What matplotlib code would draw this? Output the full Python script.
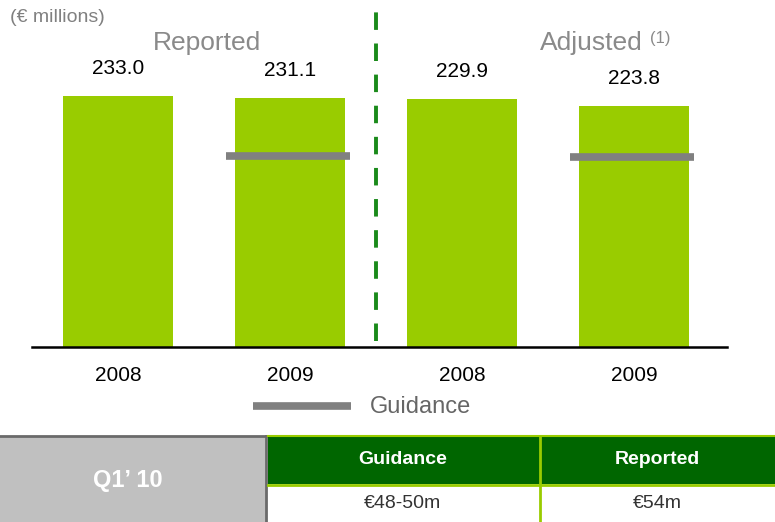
import matplotlib
matplotlib.use("Agg")
import matplotlib.pyplot as plt
from matplotlib.patches import Rectangle
from matplotlib.lines import Line2D

plt.rcParams["font.family"] = ["Liberation Sans", "DejaVu Sans"]

# data
years = ["2008", "2009", "2008", "2009"]
values = [233.0, 231.1, 229.9, 223.8]
guidance = [None, 177.0, None, 176.5]
group_titles = ["Reported", "Adjusted"]
table_row_label = "Q1\u2019 10"
table_headers = ["Guidance", "Reported"]
table_values = ["\u20ac48-50m", "\u20ac54m"]

BAR = "#99cc00"
GUIDE = "#808080"
DASH = "#1a8a1a"
W, H = 775, 522

fig = plt.figure(figsize=(W / 100, H / 100), dpi=100)

# main chart, laid out in pixel terms of the reference
ax = fig.add_axes([32 / W, (H - 347) / H, 695 / W, 347 / H])
pos = list(range(len(values)))
ax.bar(pos, values, width=0.64, color=BAR)
for x, g in zip(pos, guidance):
    if g is not None:
        ax.hlines(g, x - 0.37, x + 0.35, color=GUIDE, lw=5.5)
for x, v in zip(pos, values):
    ax.annotate(f"{v:.1f}", (x, v), xytext=(0, 20), textcoords="offset points",
                ha="center", va="center", fontsize=15, color="black")
ax.vlines(1.5, 6, 311, color=DASH, lw=2.8, linestyles=(0, (4.5, 3.5)))
ax.set_xlim(-0.5, 3.54)
ax.set_ylim(0, 322)
ax.set_xticks(pos, years, fontsize=15)
ax.tick_params(axis="x", length=0, pad=14)
ax.set_yticks([])
for s in ["top", "right", "left"]:
    ax.spines[s].set_visible(False)
ax.spines["bottom"].set_linewidth(1.8)
ax.patch.set_alpha(0)

# titles and unit label
fig.text(10 / W, 1 - 18 / H, "(\u20ac millions)", fontsize=14, color="#808080",
         ha="left", va="center")
fig.text(207 / W, 1 - 43 / H, group_titles[0], fontsize=19, color="#8a8a8a",
         ha="center", va="center")
fig.text(591 / W, 1 - 43 / H, group_titles[1], fontsize=19, color="#8a8a8a",
         ha="center", va="center")
fig.text(650 / W, 1 - 39 / H, "(1)", fontsize=12, color="#8a8a8a",
         ha="left", va="center")

# legend
fig.add_artist(Line2D([253 / W, 351 / W], [1 - 406 / H] * 2, color=GUIDE, lw=5.5,
                      solid_capstyle="butt", transform=fig.transFigure))
fig.text(370 / W, 1 - 407 / H, "Guidance", fontsize=17, color="#666666",
         ha="left", va="center")

# table at the bottom
tx = fig.add_axes([0, 0, 1, 92 / H])
tx.set_xlim(0, W)
tx.set_ylim(H, 430)
tx.axis("off")
tx.add_patch(Rectangle((0, 436), 266, 86, fc="#c0c0c0", ec="none"))
tx.plot([0, 266], [436, 436], color="#6a6a6a", lw=2)
tx.plot([266, 266], [436, 522], color="#6a6a6a", lw=2)
tx.add_patch(Rectangle((268, 437), 272, 47, fc="#006600", ec="none"))
tx.add_patch(Rectangle((541, 437), 234, 47, fc="#006600", ec="none"))
tx.plot([268, W], [436, 436], color=BAR, lw=1.5)
tx.plot([268, W], [484.5, 484.5], color=BAR, lw=2)
tx.plot([540, 540], [436, 522], color=BAR, lw=2)
tx.text(128, 481, table_row_label, fontsize=17, fontweight="bold", color="white",
        ha="center", va="center")
for cx, head, val in zip([403, 657], table_headers, table_values):
    tx.text(cx, 460, head, fontsize=14, fontweight="bold", color="white",
            ha="center", va="center")
    tx.text(cx, 503, val, fontsize=14, color="#333333", ha="center", va="center")

fig.savefig("out.png", dpi=100)
